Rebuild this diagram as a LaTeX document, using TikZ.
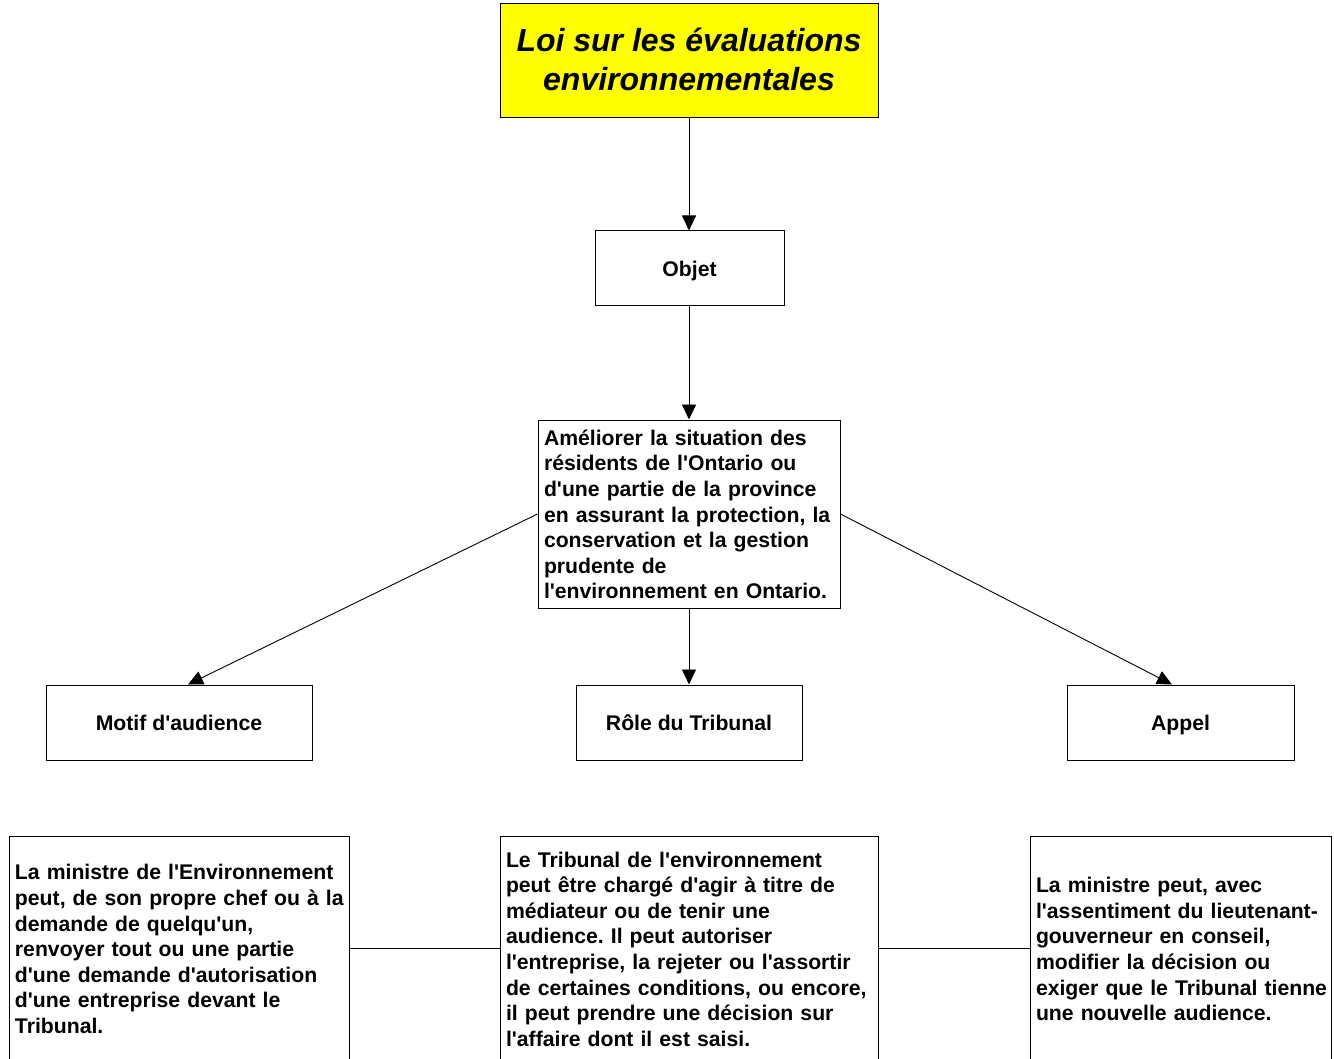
\documentclass[tikz,border=0pt]{standalone}
\usepackage{fontspec}
\setmainfont{Liberation Sans}[Ligatures=TeXOff]
\usetikzlibrary{arrows.meta}
\newcommand{\lines}[1]{\rule{0pt}{24pt}\begin{tabular}[t]{@{}l@{}}#1\end{tabular}}
\frenchspacing
\begin{document}
\begin{tikzpicture}[x=1pt,y=-1pt,
  box/.style={draw=black, line width=1pt, fill=white, rectangle, inner xsep=6pt, inner ysep=0pt,
    font=\bfseries\fontsize{21.2}{25.6}\selectfont},
  smallbox/.style={box, align=center, minimum height=75pt, text height=15.5pt, text depth=0pt},
  textbox/.style={box, align=left},
  arr/.style={line width=0.9pt, -{Triangle[width=14pt,length=15pt]}},
  link/.style={line width=0.9pt}]
\useasboundingbox (0,0) rectangle (1334,1059);

\node[box, fill={rgb,255:red,255;green,255;blue,0}, align=center, minimum width=378pt, minimum height=114pt,
  font=\bfseries\itshape\fontsize{32}{39}\selectfont] (title) at (689,61)
  {Loi sur les évaluations\\environnementales\rule[-3pt]{0pt}{0pt}};

\node[smallbox, minimum width=189pt] (objet) at (689.5,268.5) {Objet};

\node[textbox, text width=290pt, minimum height=188pt] (mid) at (689,514)
  {\lines{Améliorer la situation des\\résidents de l'Ontario ou\\d'une partie de la province\\en assurant la protection, la\\conservation et la gestion\\prudente de\\l'environnement en Ontario.}};

\node[smallbox, minimum width=266pt] (motif) at (179,722.5) {Motif d'audience};
\node[smallbox, minimum width=226pt] (role) at (689,722.5) {Rôle du Tribunal};
\node[smallbox, minimum width=227pt] (appel) at (1180.5,722.5) {Appel};

\node[textbox, text width=328pt, minimum height=225pt] (bl) at (179,948.5)
  {\lines{La ministre de l'Environnement\\peut, de son propre chef ou à la\\demande de quelqu'un,\\renvoyer tout ou une partie\\d'une demande d'autorisation\\d'une entreprise devant le\\Tribunal.}};
\node[textbox, text width=366pt, minimum height=225pt] (bm) at (689,948.5)
  {\lines{Le Tribunal de l'environnement\\peut être chargé d'agir à titre de\\médiateur ou de tenir une\\audience. Il peut autoriser\\l'entreprise, la rejeter ou l'assortir\\de certaines conditions, ou encore,\\il peut prendre une décision sur\\l'affaire dont il est saisi.}};
\node[textbox, text width=289pt, minimum height=225pt] (br) at (1180.5,948.5)
  {\lines{La ministre peut, avec\\l'assentiment du lieutenant-\\gouverneur en conseil,\\modifier la décision ou\\exiger que le Tribunal tienne\\une nouvelle audience.}};

\draw[arr] (title.south) -- (title.south |- objet.north);
\draw[arr] (objet.south -| title.south) -- (title.south |- mid.north);
\draw[arr] (mid.south) -- (role.north);
\draw[arr] (mid.west) -- ([xshift=9pt]motif.north);
\draw[arr] (mid.east) -- ([xshift=-8.5pt]appel.north);
\draw[link] (bl.east) -- (bm.west);
\draw[link] (bm.east) -- (br.west);
\end{tikzpicture}
\end{document}
